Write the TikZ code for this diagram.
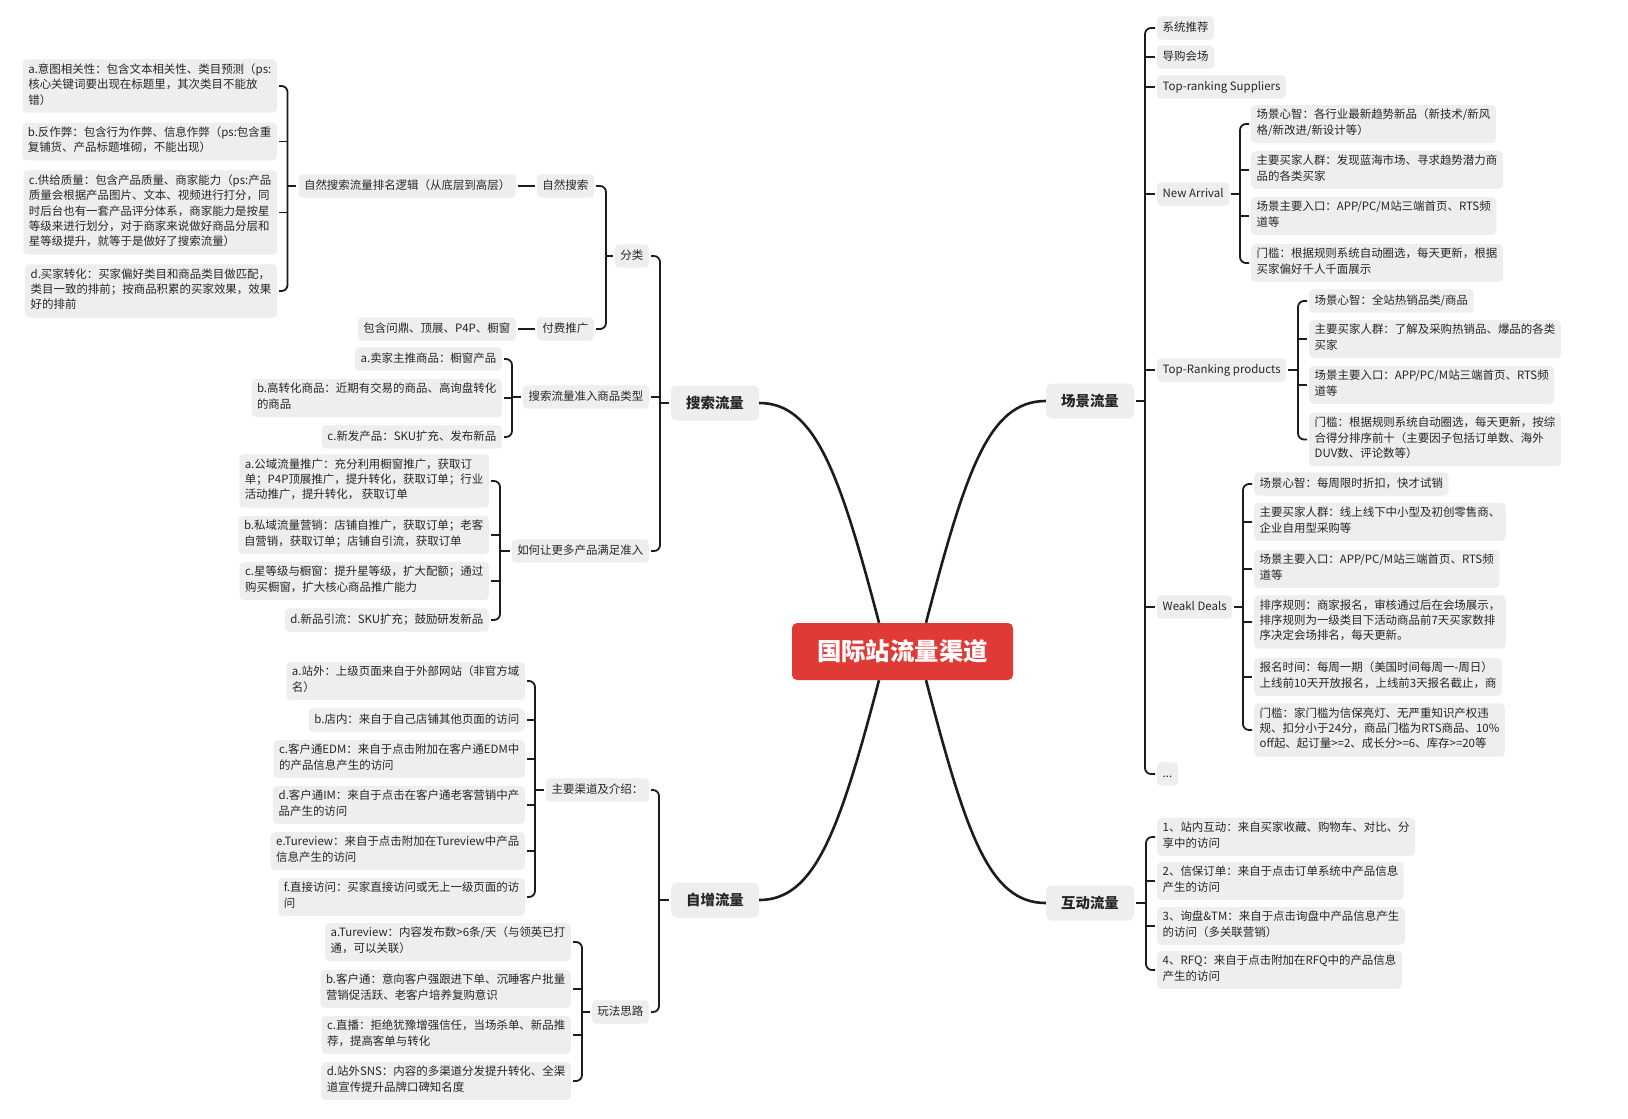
\documentclass[tikz,border=0pt]{standalone}
\usepackage{fontspec}
\setmainfont{Noto Sans CJK SC}
\usetikzlibrary{calc}
\definecolor{boxgray}{HTML}{EEEEEE}
\definecolor{txt}{HTML}{262626}
\definecolor{lnk}{HTML}{1C1C1C}
\definecolor{rootred}{HTML}{E03A36}
\begin{document}
\begin{tikzpicture}[x=1bp,y=-1bp,
  lf/.style={fill=boxgray,rounded corners=4bp,inner xsep=5.5bp,inner ysep=4bp,align=left,text=txt,
    font=\fontsize{11.5}{15.5}\selectfont,execute at begin node=\strut,execute at end node=\strut},
  lfl/.style={lf,anchor=east},
  lfr/.style={lf,anchor=west},
  lone/.style={fill=boxgray,rounded corners=6bp,minimum width=88bp,minimum height=35bp,inner sep=0pt,
    text=txt,font=\fontsize{14.5}{17}\selectfont\bfseries},
  rootnode/.style={fill=rootred,rounded corners=5bp,minimum width=221bp,minimum height=57bp,inner sep=0pt,
    text=white,font=\fontsize{24.5}{28}\selectfont\bfseries},
  mainln/.style={draw=lnk,line width=2.6bp},
  br/.style={draw=lnk,line width=1.8bp,rounded corners=6bp,shorten <=2bp,shorten >=2bp},
  cl/.style={draw=lnk,line width=1.8bp,shorten <=2bp},
  pl/.style={draw=lnk,line width=1.8bp,shorten >=2bp},
  ln/.style={draw=lnk,line width=1.8bp,shorten <=2bp,shorten >=2bp}]
\fill[white] (0,0) rectangle (1628,1118);
\useasboundingbox (0,0) rectangle (1628,1118);

% root and level 1
\node[rootnode] (root) at (902.5,651.5) {国际站流量渠道};
\node[lone] (ss) at (715,403) {搜索流量};
\node[lone] (cj) at (1090,401) {场景流量};
\node[lone] (zz) at (715,900) {自增流量};
\node[lone] (hd) at (1090,903) {互动流量};

\draw[mainln] ([xshift=-23.5bp]root.north) .. controls +(-40,-153) and +(55,0) .. (ss.east);
\draw[mainln] ([xshift=23.5bp]root.north) .. controls +(40,-153) and +(-57,0) .. (cj.west);
\draw[mainln] ([xshift=-23.5bp]root.south) .. controls +(-40,153) and +(55,0) .. (zz.east);
\draw[mainln] ([xshift=23.5bp]root.south) .. controls +(40,153) and +(-57,0) .. (hd.west);

% ---------- search traffic ----------
\node[lfl] (fl) at (649,256) {分类};
\node[lfl] (zr) at (649,397) {搜索流量准入商品类型};
\node[lfl] (hr) at (649,551) {如何让更多产品满足准入};
\node[lfl] (zrss) at (594,186) {自然搜索};
\node[lfl] (ffcg) at (594,329) {付费推广};
\node[lfl] (nsl) at (516,186) {自然搜索流量排名逻辑（从底层到高层）};
\node[lfl] (pp) at (516,329) {包含问鼎、顶展、P4P、橱窗};
\node[lfl] (A1) at (277,86) {a.意图相关性：包含文本相关性、类目预测（ps:\\核心关键词要出现在标题里，其次类目不能放\\错）};
\node[lfl] (A2) at (277,141.5) {b.反作弊：包含行为作弊、信息作弊（ps:包含重\\复铺货、产品标题堆砌，不能出现）};
\node[lfl] (A3) at (277,212.5) {c.供给质量：包含产品质量、商家能力（ps:产品\\质量会根据产品图片、文本、视频进行打分，同\\时后台也有一套产品评分体系，商家能力是按星\\等级来进行划分，对于商家来说做好商品分层和\\星等级提升，就等于是做好了搜索流量）};
\node[lfl] (A4) at (277,291) {d.买家转化：买家偏好类目和商品类目做匹配，\\类目一致的排前；按商品积累的买家效果，效果\\好的排前};
\node[lfl] (B1) at (502,359) {a.卖家主推商品：橱窗产品};
\node[lfl] (B2) at (502,398) {b.高转化商品：近期有交易的商品、高询盘转化\\的商品};
\node[lfl] (B3) at (502,437) {c.新发产品：SKU扩充、发布新品};
\node[lfl] (C1) at (489,481) {a.公域流量推广：充分利用橱窗推广，获取订\\单；P4P顶展推广，提升转化，获取订单；行业\\活动推广，提升转化， 获取订单};
\node[lfl] (C2) at (489,535) {b.私域流量营销：店铺自推广，获取订单；老客\\自营销，获取订单；店铺自引流，获取订单};
\node[lfl] (C3) at (489,581) {c.星等级与橱窗：提升星等级，扩大配额；通过\\购买橱窗，扩大核心商品推广能力};
\node[lfl] (C4) at (489,620) {d.新品引流：SKU扩充；鼓励研发新品};

\coordinate (sp0) at (660,403);
\draw[br] (fl.east) -| (sp0) |- (hr.east);
\draw[cl] (zr.east) -- (zr.east -| sp0);
\draw[pl] (sp0) -- (ss.west);

\coordinate (sp1) at (606,256);
\draw[br] (zrss.east) -| (sp1) |- (ffcg.east);
\draw[pl] (sp1) -- (fl.west);
\draw[ln] (nsl.east) -- (zrss.west);
\draw[ln] (pp.east) -- (ffcg.west);

\coordinate (sp2) at (287.5,186);
\draw[br] (A1.east) -| (sp2) |- (A4.east);
\draw[cl] (A2.east) -- (A2.east -| sp2);
\draw[cl] (A3.east) -- (A3.east -| sp2);
\draw[pl] (sp2) -- (nsl.west);

\coordinate (sp3) at (512,397);
\draw[br] (B1.east) -| (sp3) |- (B3.east);
\draw[cl] (B2.east) -- (B2.east -| sp3);
\draw[pl] (sp3) -- (zr.west);

\coordinate (sp4) at (500,551);
\draw[br] (C1.east) -| (sp4) |- (C4.east);
\draw[cl] (C2.east) -- (C2.east -| sp4);
\draw[cl] (C3.east) -- (C3.east -| sp4);
\draw[pl] (sp4) -- (hr.west);

% ---------- self-growth traffic ----------
\node[lfl] (qd) at (649,790) {主要渠道及介绍：};
\node[lfl] (wf) at (649,1012) {玩法思路};
\node[lfl] (D1) at (525,681) {a.站外：上级页面来自于外部网站（非官方域\\名）};
\node[lfl] (D2) at (525,720) {b.店内：来自于自己店铺其他页面的访问};
\node[lfl] (D3) at (525,759) {c.客户通EDM：来自于点击附加在客户通EDM中\\的产品信息产生的访问};
\node[lfl] (D4) at (525,805) {d.客户通IM：来自于点击在客户通老客营销中产\\品产生的访问};
\node[lfl] (D5) at (525,851) {e.Tureview：来自于点击附加在Tureview中产品\\信息产生的访问};
\node[lfl] (D6) at (525,897) {f.直接访问：买家直接访问或无上一级页面的访\\问};
\node[lfl] (E1) at (571,942) {a.Tureview：内容发布数>6条/天（与领英已打\\通，可以关联）};
\node[lfl] (E2) at (571,989) {b.客户通：意向客户强跟进下单、沉睡客户批量\\营销促活跃、老客户培养复购意识};
\node[lfl] (E3) at (571,1035) {c.直播：拒绝犹豫增强信任，当场杀单、新品推\\荐，提高客单与转化};
\node[lfl] (E4) at (571,1081) {d.站外SNS：内容的多渠道分发提升转化、全渠\\道宣传提升品牌口碑知名度};

\coordinate (sp5) at (659,900);
\draw[br] (qd.east) -| (sp5) |- (wf.east);
\draw[pl] (sp5) -- (zz.west);

\coordinate (sp6) at (535,790);
\draw[br] (D1.east) -| (sp6) |- (D6.east);
\draw[cl] (D2.east) -- (D2.east -| sp6);
\draw[cl] (D3.east) -- (D3.east -| sp6);
\draw[cl] (D4.east) -- (D4.east -| sp6);
\draw[cl] (D5.east) -- (D5.east -| sp6);
\draw[pl] (sp6) -- (qd.west);

\coordinate (sp7) at (582,1012);
\draw[br] (E1.east) -| (sp7) |- (E4.east);
\draw[cl] (E2.east) -- (E2.east -| sp7);
\draw[cl] (E3.east) -- (E3.east -| sp7);
\draw[pl] (sp7) -- (wf.west);

% ---------- scene traffic ----------
\node[lfr] (R1) at (1157,28) {系统推荐};
\node[lfr] (R2) at (1157,57) {导购会场};
\node[lfr] (R3) at (1157,87) {Top-ranking Suppliers};
\node[lfr] (R4) at (1157,194) {New Arrival};
\node[lfr] (R5) at (1157,370) {Top-Ranking products};
\node[lfr] (R6) at (1157,607) {Weakl Deals};
\node[lfr] (R7) at (1157,774) {...};
\node[lfr] (N1) at (1251,124) {场景心智：各行业最新趋势新品（新技术/新风\\格/新改进/新设计等）};
\node[lfr] (N2) at (1251,170) {主要买家人群：发现蓝海市场、寻求趋势潜力商\\品的各类买家};
\node[lfr] (N3) at (1251,216) {场景主要入口：APP/PC/M站三端首页、RTS频\\道等};
\node[lfr] (N4) at (1251,263) {门槛：根据规则系统自动圈选，每天更新，根据\\买家偏好千人千面展示};
\node[lfr] (T1) at (1309,301) {场景心智：全站热销品类/商品};
\node[lfr] (T2) at (1309,339) {主要买家人群：了解及采购热销品、爆品的各类\\买家};
\node[lfr] (T3) at (1309,385) {场景主要入口：APP/PC/M站三端首页、RTS频\\道等};
\node[lfr] (T4) at (1309,439.5) {门槛：根据规则系统自动圈选，每天更新，按综\\合得分排序前十（主要因子包括订单数、海外\\DUV数、评论数等）};
\node[lfr] (W1) at (1254,484) {场景心智：每周限时折扣，快才试销};
\node[lfr] (W2) at (1254,522) {主要买家人群：线上线下中小型及初创零售商、\\企业自用型采购等};
\node[lfr] (W3) at (1254,569) {场景主要入口：APP/PC/M站三端首页、RTS频\\道等};
\node[lfr] (W4) at (1254,622) {排序规则：商家报名，审核通过后在会场展示，\\排序规则为一级类目下活动商品前7天买家数排\\序决定会场排名，每天更新。};
\node[lfr] (W5) at (1254,677) {报名时间：每周一期（美国时间每周一-周日）\\上线前10天开放报名，上线前3天报名截止，商};
\node[lfr] (W6) at (1254,730) {门槛：家门槛为信保亮灯、无严重知识产权违\\规、扣分小于24分，商品门槛为RTS商品、10\%\\off起、起订量>=2、成长分>=6、库存>=20等};

\coordinate (sp8) at (1145,401);
\draw[br] (R1.west) -| (sp8) |- (R7.west);
\draw[cl] (R2.west) -- (R2.west -| sp8);
\draw[cl] (R3.west) -- (R3.west -| sp8);
\draw[cl] (R4.west) -- (R4.west -| sp8);
\draw[cl] (R5.west) -- (R5.west -| sp8);
\draw[cl] (R6.west) -- (R6.west -| sp8);
\draw[pl] (sp8) -- (cj.east);

\coordinate (sp9) at (1240,194);
\draw[br] (N1.west) -| (sp9) |- (N4.west);
\draw[cl] (N2.west) -- (N2.west -| sp9);
\draw[cl] (N3.west) -- (N3.west -| sp9);
\draw[pl] (sp9) -- (R4.east);

\coordinate (sp10) at (1298,370);
\draw[br] (T1.west) -| (sp10) |- (T4.west);
\draw[cl] (T2.west) -- (T2.west -| sp10);
\draw[cl] (T3.west) -- (T3.west -| sp10);
\draw[pl] (sp10) -- (R5.east);

\coordinate (sp11) at (1243,607);
\draw[br] (W1.west) -| (sp11) |- (W6.west);
\draw[cl] (W2.west) -- (W2.west -| sp11);
\draw[cl] (W3.west) -- (W3.west -| sp11);
\draw[cl] (W4.west) -- (W4.west -| sp11);
\draw[cl] (W5.west) -- (W5.west -| sp11);
\draw[pl] (sp11) -- (R6.east);

% ---------- interaction traffic ----------
\node[lfr] (I1) at (1157,837) {1、站内互动：来自买家收藏、购物车、对比、分\\享中的访问};
\node[lfr] (I2) at (1157,881) {2、信保订单：来自于点击订单系统中产品信息\\产生的访问};
\node[lfr] (I3) at (1157,926) {3、询盘\&TM：来自于点击询盘中产品信息产生\\的访问（多关联营销）};
\node[lfr] (I4) at (1157,970) {4、RFQ：来自于点击附加在RFQ中的产品信息\\产生的访问};

\coordinate (sp12) at (1146,903);
\draw[br] (I1.west) -| (sp12) |- (I4.west);
\draw[cl] (I2.west) -- (I2.west -| sp12);
\draw[cl] (I3.west) -- (I3.west -| sp12);
\draw[pl] (sp12) -- (hd.east);
\end{tikzpicture}
\end{document}
